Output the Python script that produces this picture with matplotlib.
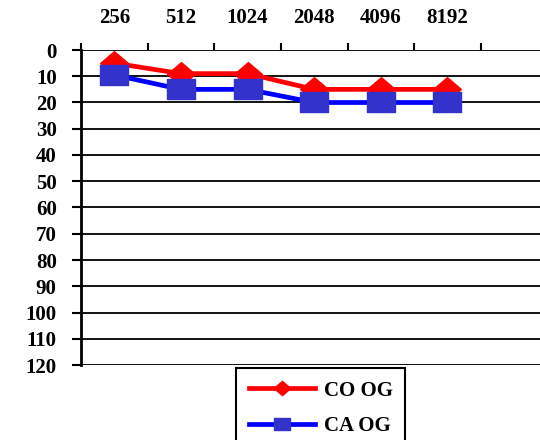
import matplotlib
matplotlib.use('Agg')
import matplotlib.pyplot as plt
from matplotlib.path import Path

sizes = ['256', '512', '1024', '2048', '4096', '8192']
co_og = [5, 9, 9, 15, 15, 15]
ca_og = [9.5, 15, 15, 20, 20, 20]
y_ticks = list(range(0, 121, 10))

plt.rcParams['font.family'] = ['Liberation Serif', 'DejaVu Serif']
plt.rcParams['font.weight'] = 'bold'
plt.rcParams['font.size'] = 15

# slightly wide markers, like the stretched original
diamond = Path([(-1.17, 0), (0, -1), (1.17, 0), (0, 1), (-1.17, 0)],
               [Path.MOVETO, Path.LINETO, Path.LINETO, Path.LINETO, Path.CLOSEPOLY])
square = Path([(-1.29, -1), (1.29, -1), (1.29, 1), (-1.29, 1), (-1.29, -1)],
              [Path.MOVETO, Path.LINETO, Path.LINETO, Path.LINETO, Path.CLOSEPOLY])

fig = plt.figure(figsize=(5.4, 4.4), dpi=100)
ax = fig.add_axes([81 / 540, 1 - 365 / 440, 1 - 81 / 540, 315 / 440])

x = list(range(len(sizes)))
ax.plot(x, co_og, '-', color='#ff0000', lw=3.4, marker=diamond, ms=20,
        mfc='#ff0000', mec='#ff0000', label='CO OG', zorder=3)
ax.plot(x, ca_og, '-', color='#0000ff', lw=3.4, marker=square, ms=19.5,
        mfc='#3333cc', mec='#3333cc', label='CA OG', zorder=4)

ax.set_xlim(-0.5, (540 - 114.5) / 66.6)
ax.set_ylim(120, 0)
ax.set_yticks(y_ticks)
ax.yaxis.grid(True, color='black', lw=1.3)
ax.set_axisbelow(True)

ax.xaxis.tick_top()
ax.set_xticks([i - 0.5 for i in range(7)])
ax.set_xticklabels([])
ax.set_xticks(x, minor=True)
ax.set_xticklabels(sizes, minor=True)
ax.tick_params(axis='x', which='major', length=5, width=1.5, direction='out')
ax.tick_params(axis='x', which='minor', length=0, pad=16)
ax.tick_params(axis='y', length=6.5, width=1.5, pad=11)

for side in ('right', 'bottom', 'top'):
    ax.spines[side].set_visible(False)
ax.spines['left'].set_linewidth(2)

leg = fig.legend(loc='upper center', bbox_to_anchor=(0.594, 1 - 368 / 440),
                 fancybox=False, edgecolor='black', framealpha=1,
                 handlelength=3.2, handletextpad=0.4, labelspacing=0.75,
                 borderpad=0.6, borderaxespad=0, markerscale=0.6)
leg.get_frame().set_linewidth(1.5)

fig.savefig('out.png', dpi=100)
